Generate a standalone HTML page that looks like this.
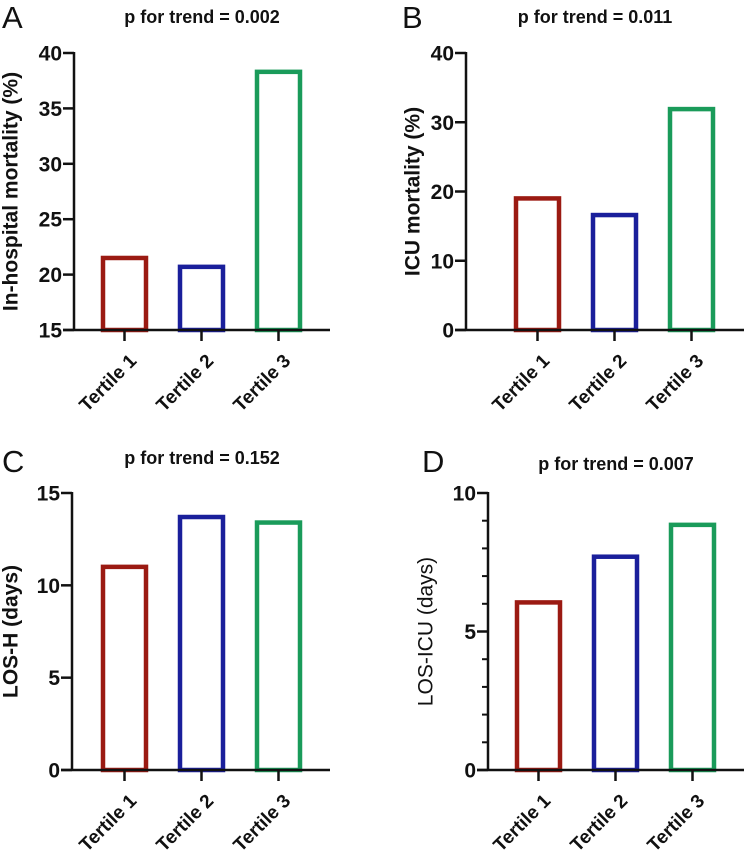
<!DOCTYPE html>
<html><head><meta charset="utf-8"><style>
body{margin:0;background:#fff;}
svg{display:block;font-family:"Liberation Sans",Arial,sans-serif;}
</style></head><body>
<svg width="744" height="853" viewBox="0 0 744 853" id="chart"></svg>
<script>
const categories = ["Tertile 1","Tertile 2","Tertile 3"];
const valuesA = [21.5, 20.7, 38.3];
const valuesB = [19.0, 16.6, 31.9];
const valuesC = [11.0, 13.7, 13.4];
const valuesD = [6.05, 7.7, 8.85];
const ticksA = [15,20,25,30,35,40];
const ticksB = [0,10,20,30,40];
const ticksC = [0,5,10,15];
const ticksD = [0,5,10];
const titles = ["p for trend = 0.002","p for trend = 0.011","p for trend = 0.152","p for trend = 0.007"];
const yTitles = ["In-hospital mortality (%)","ICU mortality (%)","LOS-H (days)","LOS-ICU (days)"];
const colors = ["#9b1a12","#1a1f9b","#1a9b5a"];
const NS="http://www.w3.org/2000/svg";
const svg=document.getElementById('chart');
function mk(tag,attrs,parent,text){const e=document.createElementNS(NS,tag);for(const k in attrs)e.setAttribute(k,attrs[k]);if(text!==undefined)e.textContent=text;(parent||svg).appendChild(e);return e;}
const panels=[
 {letter:"A",lx:2,ly:28,vals:valuesA,ticks:ticksA,ax:74,top:53,bot:330,xEnd:330,b0:101,tx:202,tty:23,ytx:3,bold:true,minor:0},
 {letter:"B",lx:402,ly:28,vals:valuesB,ticks:ticksB,ax:466,top:53,bot:330,xEnd:744,b0:514,tx:595,tty:23,ytx:405,bold:true,minor:0},
 {letter:"C",lx:2,ly:472,vals:valuesC,ticks:ticksC,ax:72,top:493,bot:770,xEnd:330,b0:101,tx:202,tty:464,ytx:3,bold:true,minor:0},
 {letter:"D",lx:422,ly:472,vals:valuesD,ticks:ticksD,ax:488,top:493,bot:770,xEnd:744,b0:515,tx:616,tty:470,ytx:418,bold:false,minor:1}
];
panels.forEach((p,i)=>{
 const g=mk('g',{});
 
 
 const lo=p.ticks[0],hi=p.ticks[p.ticks.length-1];
 const y=v=>p.bot-(v-lo)/(hi-lo)*(p.bot-p.top);
 const bx=k=>p.b0+k*77;
 const bw=47;
 const L=mk('text',{x:p.lx,y:p.ly,'font-size':31,fill:'#111'},g,p.letter);
 
 
 const T=mk('text',{x:p.tx,y:p.tty,'font-size':18,'font-weight':'bold','text-anchor':'middle',fill:'#111'},g,titles[i]);
 
 
 const cy=(p.top+p.bot)/2;
 const YT=mk('text',{x:p.ytx,y:cy,'font-size':21,'font-weight':p.bold?'bold':'normal','text-anchor':'middle',fill:'#111',transform:`rotate(-90 ${p.ytx} ${cy})`,'dominant-baseline':'hanging'},g,yTitles[i]);
 
 
 p.vals.forEach((v,k)=>{
  const r=mk('rect',{x:bx(k)+2,y:y(v),width:bw-4,height:p.bot-y(v),fill:'none',stroke:colors[k],'stroke-width':4.5},g);
  
  
 });
 if(p.minor){for(let v=lo;v<=hi;v+=p.minor){mk('line',{x1:p.ax-6,x2:p.ax,y1:y(v),y2:y(v),stroke:'#111','stroke-width':2},g);}}
 p.ticks.forEach(v=>{
  mk('line',{x1:p.ax-11,x2:p.ax,y1:y(v),y2:y(v),stroke:'#111','stroke-width':2.5},g);
  const t=mk('text',{x:p.ax-12,y:y(v)+7.5,'font-size':21,'font-weight':'bold','text-anchor':'end',fill:'#111'},g,String(v));
  
  
 });
 const ya=mk('line',{x1:p.ax,x2:p.ax,y1:p.top-1,y2:p.bot+1,stroke:'#111','stroke-width':2.5},g);
 
 
 const xa=mk('line',{x1:p.ax-11,x2:p.xEnd,y1:p.bot,y2:p.bot,stroke:'#111','stroke-width':2.5},g);
 
 
 categories.forEach((c,k)=>{
  const cx=bx(k)+bw/2;
  mk('line',{x1:cx,x2:cx,y1:p.bot,y2:p.bot+11,stroke:'#111','stroke-width':2.5},g);
  const ly=p.bot+23;
  const t=mk('text',{x:cx+4,y:ly,'font-size':19,'font-weight':'bold','text-anchor':'end',fill:'#111',transform:`rotate(-45 ${cx+4} ${ly})`,'dominant-baseline':'hanging'},g,c);
  
  
 });
});
</script>
</body></html>
